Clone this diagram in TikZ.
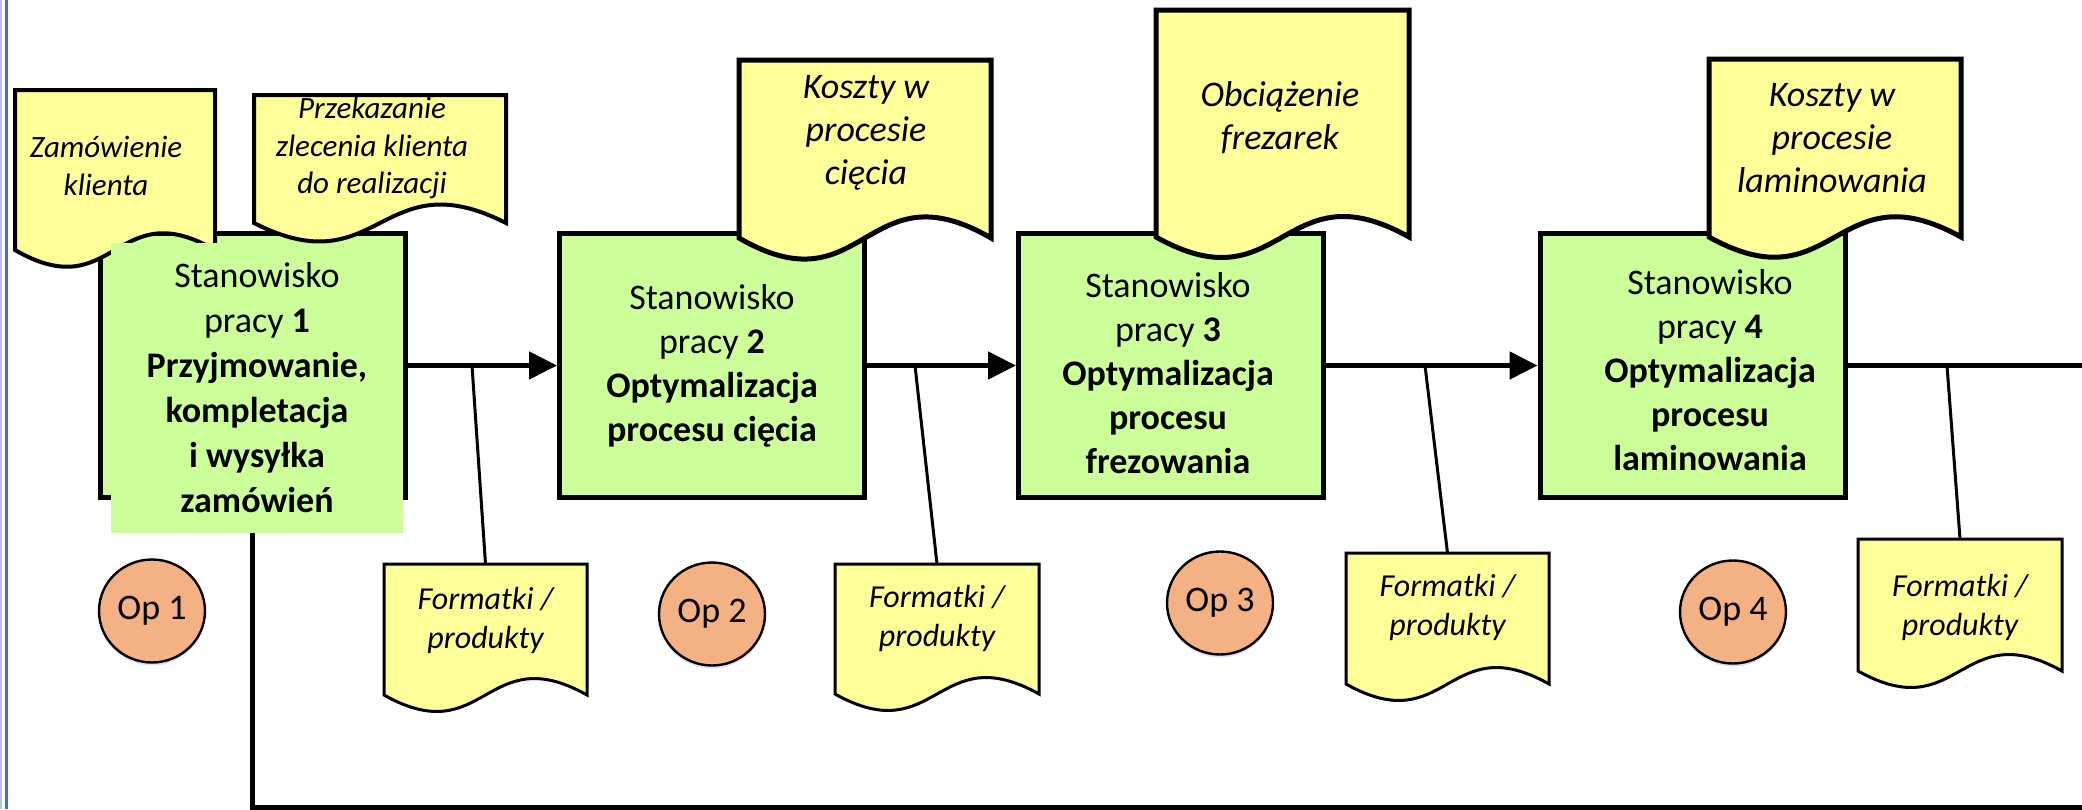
\documentclass[tikz,border=0pt]{standalone}
\usepackage{fontspec}
\setmainfont{Carlito}
\usetikzlibrary{arrows.meta,shapes.geometric,shadows}

\definecolor{stgreen}{HTML}{CCFF99}
\definecolor{docyellow}{HTML}{FFFF99}
\definecolor{opfill}{HTML}{F4B183}
\definecolor{frameblue}{HTML}{4472C4}
\definecolor{framelight}{HTML}{B4C7E7}

% dokument: [styl] lewo, gora, prawo, dol, fala
\newcommand{\docsheet}[6][]{%
  \path[docsheet,#1] (#2,#3) -- (#4,#3) -- (#4,#5)
    .. controls ({(#2+#4)/2},{#5-#6}) and ({(#2+#4)/2},{#5+#6}) .. (#2,#5) -- cycle;}

\tikzset{
  docsheet/.style={fill=docyellow, draw=black, line width=2.5pt},
  leftdoc/.style={line width=2pt},
  smalldoc/.style={line width=1.5pt},
  stbox/.style={rectangle, draw=black, fill=stgreen, line width=2.5pt,
    minimum width=152.5pt, minimum height=132pt, inner sep=0pt},
  stcover/.style={rectangle, fill=stgreen, minimum width=146pt,
    minimum height=145pt, inner sep=0pt},
  sttext/.style={align=center, font=\fontsize{18}{22}\selectfont, inner sep=0pt},
  doctext/.style={align=center, font=\fontsize{18}{21.5}\selectfont\itshape, inner sep=0pt},
  notetext/.style={align=center, font=\fontsize{15.5}{18.75}\selectfont\itshape, inner sep=0pt},
  prodtext/.style={align=center, font=\fontsize{16}{19.5}\selectfont\itshape,
    minimum width=102pt, anchor=north, inner sep=0pt, outer sep=0pt},
  opcirc/.style={ellipse, draw=black, fill=opfill, line width=1.2pt,
    minimum width=53pt, minimum height=51.5pt, inner sep=0pt,
    font=\fontsize{18}{21}\selectfont,
    drop shadow={shadow xshift=0pt, shadow yshift=-1.5pt, fill=blue!25, opacity=0.5}},
  flow/.style={line width=2.5pt, -{Triangle[length=14pt,width=13.5pt]}},
  flowline/.style={line width=2.5pt},
  feedline/.style={line width=1.5pt}
}

\begin{document}
\begin{tikzpicture}[x=0.5pt,y=-0.5pt]
\useasboundingbox (0,0) rectangle (2082,809);

\fill[framelight] (0,0) rectangle (2,809);
\fill[frameblue] (5,0) rectangle (7.5,809);

% stanowisko 1
\node[stbox] (b1) at (252.5,365.5) {};
\docsheet[leftdoc]{15}{90}{215}{250}{58}
\node[notetext] (zam) at (106,166) {Zamówienie\\klienta};
\node[stcover, sttext, font=\fontsize{18}{22.5}\selectfont] (t1) at (257,388)
  {Stanowisko\\pracy \textbf{1}\\\textbf{Przyjmowanie,}\\\textbf{kompletacja}\\\textbf{i wysyłka}\\\textbf{zamówień}};
\docsheet[leftdoc]{254}{95}{506}{223}{64}
\node[notetext] (prz) at (372,148) {Przekazanie\\zlecenia klienta\\do realizacji};

% stanowisko 2
\node[stbox, sttext] (b2) at (712,365.5)
  {Stanowisko\\pracy \textbf{2}\\\textbf{Optymalizacja}\\\textbf{procesu cięcia}};
\docsheet{739}{60}{991}{238}{73}
\node[doctext] (kc) at (866,133) {Koszty w\\procesie\\cięcia};

% stanowisko 3
\node[stbox] (b3) at (1171,365.5) {};
\node[sttext] (t3) at ([shift={(-3,7.5)}]b3.center)
  {Stanowisko\\pracy \textbf{3}\\\textbf{Optymalizacja}\\\textbf{procesu}\\\textbf{frezowania}};
\docsheet{1156}{10}{1409}{237}{71}
\node[doctext] (obc) at (1280,117.5) {Obciążenie\\frezarek};

% stanowisko 4
\node[stbox] (b4) at (1692.5,365.5) {};
\node[sttext] (t4) at ([shift={(17.5,5)}]b4.center)
  {Stanowisko\\pracy \textbf{4}\\\textbf{Optymalizacja}\\\textbf{procesu}\\\textbf{laminowania}};
\docsheet{1709}{59}{1961}{237}{70}
\node[doctext] (kl) at (1832,138) {Koszty w\\procesie\\laminowania};

% przeplyw
\coordinate (out) at (2082,365.5);
\foreach \a/\b in {1/2,2/3,3/4}
  \draw[flow] (b\a.east) -- (b\b.west);
\draw[flowline] (b4.east) -- (out);

\coordinate (ret) at (252,807.5);
\draw[flowline] (t1.south -| ret) -- (ret) -- (ret -| out);

% formatki
\foreach \n/\l/\t/\r/\b/\h/\j in {1/384/564/587/695/56/472, 2/835/564/1039/694/54/915,
    3/1346/553/1549/684/54/1425, 4/1858/539/2062/671/68/1947}{
  \docsheet[smalldoc]{\l}{\t}{\r}{\b}{57}
  \node[prodtext, minimum height=\h pt] (f\n) at ({(\l+\r)/2},\t) {Formatki /\\produkty};
  \coordinate (j\n) at (\j,365.5);
  \draw[feedline] (j\n) -- (f\n.north);
}

\foreach \n/\x/\y in {1/152/611, 2/712/614, 3/1220/603, 4/1733/612}
  \node[opcirc] (op\n) at (\x,\y) {Op \n};

\end{tikzpicture}
\end{document}
